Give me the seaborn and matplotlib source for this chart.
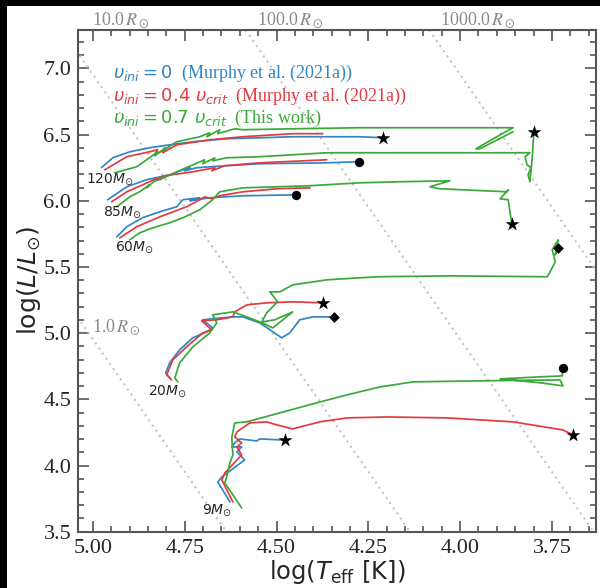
import numpy as np
import pandas as pd
import matplotlib
matplotlib.use("Agg")
import matplotlib.pyplot as plt
from matplotlib.font_manager import FontProperties
from matplotlib.lines import Line2D
from matplotlib.patches import Rectangle
from matplotlib.ticker import MultipleLocator, FormatStrFormatter
import seaborn as sns

# evolutionary tracks: log Teff and log L for each mass / rotation
t120_v0 = [4.977, 4.946, 4.900, 4.846, 4.791, 4.728, 4.635, 4.546, 4.456, 4.273, 4.210]
l120_v0 = [6.250, 6.325, 6.370, 6.401, 6.423, 6.446, 6.469, 6.476, 6.484, 6.484, 6.476]
t120_v4 = [4.968, 4.908, 4.846, 4.824, 4.832, 4.805, 4.810, 4.772, 4.682, 4.592, 4.456, 4.374]
l120_v4 = [6.234, 6.333, 6.370, 6.386, 6.348, 6.386, 6.363, 6.423, 6.461, 6.484, 6.507, 6.507]
t120_v7 = [4.941, 4.881, 4.854, 4.824, 4.832, 4.802, 4.810, 4.772, 4.709, 4.682, 4.690, 4.655,
           4.660, 4.614, 4.592, 4.456, 4.273, 3.856, 3.905, 3.957, 3.946, 3.856]
l120_v7 = [6.212, 6.257, 6.310, 6.370, 6.340, 6.401, 6.378, 6.446, 6.484, 6.514, 6.484, 6.537,
           6.507, 6.544, 6.537, 6.544, 6.552, 6.552, 6.476, 6.393, 6.393, 6.522]

t85_v0 = [4.960, 4.908, 4.854, 4.791, 4.755, 4.736, 4.750, 4.717, 4.682, 4.546, 4.363, 4.276]
l85_v0 = [6.008, 6.106, 6.159, 6.197, 6.234, 6.250, 6.227, 6.250, 6.257, 6.280, 6.287, 6.295]
t85_v4 = [4.949, 4.908, 4.846, 4.824, 4.832, 4.805, 4.728, 4.668, 4.676, 4.641, 4.546, 4.363]
l85_v4 = [5.993, 6.068, 6.144, 6.174, 6.151, 6.189, 6.219, 6.250, 6.227, 6.265, 6.287, 6.310]
t85_v7 = [4.935, 4.900, 4.873, 4.846, 4.854, 4.832, 4.818, 4.772, 4.728, 4.696, 4.701, 4.668,
          4.674, 4.636, 4.546, 4.363, 3.810, 3.823, 3.818, 3.807, 3.815, 3.810, 3.804, 3.799]
l85_v7 = [5.955, 6.030, 6.068, 6.121, 6.098, 6.151, 6.159, 6.219, 6.272, 6.310, 6.280, 6.325,
          6.302, 6.325, 6.333, 6.363, 6.363, 6.333, 6.272, 6.250, 6.197, 6.144, 6.310, 6.522]

t60_v0 = [4.935, 4.908, 4.865, 4.818, 4.772, 4.755, 4.709, 4.736, 4.682, 4.592, 4.447]
l60_v0 = [5.728, 5.804, 5.872, 5.917, 5.955, 6.008, 6.023, 6.000, 6.023, 6.038, 6.045]
t60_v4 = [4.927, 4.881, 4.818, 4.745, 4.709, 4.696, 4.676, 4.655, 4.592, 4.499, 4.409]
l60_v4 = [5.720, 5.804, 5.879, 5.955, 6.008, 6.030, 6.015, 6.038, 6.068, 6.091, 6.098]
t60_v7 = [4.900, 4.873, 4.837, 4.791, 4.755, 4.709, 4.674, 4.655, 4.592, 4.499, 4.409, 4.273,
          4.164, 4.028, 4.082, 4.055, 3.872, 3.869, 3.891, 3.869, 3.864, 3.859]
l60_v7 = [5.705, 5.758, 5.796, 5.834, 5.872, 5.932, 6.008, 6.068, 6.098, 6.106, 6.114, 6.136,
          6.144, 6.151, 6.106, 6.091, 6.068, 6.083, 6.015, 6.008, 5.909, 5.826]

t20_v0 = [4.791, 4.802, 4.791, 4.764, 4.728, 4.690, 4.674, 4.701, 4.649, 4.619, 4.592, 4.546,
          4.486, 4.464, 4.437, 4.401, 4.344]
l20_v0 = [4.662, 4.700, 4.776, 4.874, 4.965, 5.010, 5.040, 5.101, 5.116, 5.123, 5.123, 5.078,
          4.965, 5.002, 5.101, 5.123, 5.123]
t20_v4 = [4.786, 4.799, 4.783, 4.745, 4.701, 4.676, 4.704, 4.663, 4.619, 4.614, 4.581, 4.527,
          4.456, 4.374]
l20_v4 = [4.647, 4.685, 4.798, 4.897, 5.002, 5.025, 5.093, 5.101, 5.123, 5.161, 5.214, 5.229,
          5.237, 5.229]
t20_v7 = [4.769, 4.777, 4.764, 4.728, 4.682, 4.663, 4.674, 4.636, 4.619, 4.581, 4.546, 4.510,
          4.456, 4.505, 4.540, 4.527, 4.497, 4.518, 4.491, 4.456, 4.363, 4.227, 4.028, 3.763,
          3.755, 3.741, 3.749, 3.733, 3.741, 3.733]
l20_v7 = [4.632, 4.662, 4.776, 4.897, 5.002, 5.078, 5.138, 5.154, 5.161, 5.123, 5.085, 5.040,
          5.161, 5.101, 5.085, 5.154, 5.237, 5.312, 5.312, 5.365, 5.403, 5.426, 5.433, 5.426,
          5.463, 5.539, 5.630, 5.705, 5.592, 5.645]

t9_v0 = [4.627, 4.660, 4.649, 4.587, 4.608, 4.595, 4.622, 4.614, 4.600, 4.554, 4.546, 4.491, 4.477]
l9_v0 = [3.725, 3.876, 3.914, 4.042, 4.103, 4.141, 4.141, 4.171, 4.201, 4.186, 4.201, 4.194, 4.194]
t9_v4 = [4.619, 4.649, 4.641, 4.595, 4.608, 4.595, 4.614, 4.608, 4.573, 4.527, 4.499, 4.456,
         4.382, 4.308, 4.199, 4.036, 3.856, 3.720, 3.692]
l9_v4 = [3.725, 3.891, 3.944, 4.080, 4.141, 4.171, 4.216, 4.254, 4.322, 4.330, 4.307, 4.277,
         4.330, 4.360, 4.367, 4.360, 4.330, 4.269, 4.231]
t9_v7 = [4.595, 4.641, 4.636, 4.627, 4.619, 4.622, 4.614, 4.581, 4.491, 4.401, 4.308, 4.218,
         4.128, 3.946, 3.728, 3.720, 3.782, 3.891, 3.782, 3.722, 3.720]
l9_v7 = [3.680, 3.869, 3.914, 4.020, 4.080, 4.209, 4.322, 4.330, 4.398, 4.466, 4.534, 4.594,
         4.632, 4.640, 4.647, 4.602, 4.625, 4.655, 4.670, 4.677, 4.737]

rot_labels = [r"$\upsilon_{ini} = 0$  (Murphy et al. (2021a))",
              r"$\upsilon_{ini} = 0.4\ \upsilon_{crit}$  (Murphy et al. (2021a))",
              r"$\upsilon_{ini} = 0.7\ \upsilon_{crit}$  (This work)"]
palette = ["#2f86c8", "#e33a3f", "#3aa93a"]

# (mass, rotation index, T, L, end marker)
tracks = [
    (120, 0, t120_v0, l120_v0, "*"), (120, 1, t120_v4, l120_v4, None), (120, 2, t120_v7, l120_v7, None),
    (85, 0, t85_v0, l85_v0, "o"), (85, 1, t85_v4, l85_v4, None), (85, 2, t85_v7, l85_v7, "*"),
    (60, 0, t60_v0, l60_v0, "o"), (60, 1, t60_v4, l60_v4, None), (60, 2, t60_v7, l60_v7, "*"),
    (20, 0, t20_v0, l20_v0, "D"), (20, 1, t20_v4, l20_v4, "*"), (20, 2, t20_v7, l20_v7, "D"),
    (9, 0, t9_v0, l9_v0, "*"), (9, 1, t9_v4, l9_v4, "*"), (9, 2, t9_v7, l9_v7, "o"),
]

mass_labels = ["120", "85", "60", "20", "9"]
radii = [1, 10, 100, 1000]
logT_sun = 3.7617

rows = []
for mass, r, tt, ll, _ in tracks:
    for i, (a, b) in enumerate(zip(tt, ll)):
        rows.append({"logT": a, "logL": b, "rot": rot_labels[r], "track": f"{mass}_{r}", "i": i})
df = pd.DataFrame(rows)

sns.set_style("ticks")
plt.rcParams["font.family"] = ["Liberation Serif", "DejaVu Serif"]
plt.rcParams["mathtext.fontset"] = "dejavusans"

fig = plt.figure(figsize=(6, 5.88), dpi=100, facecolor="black")
fig.add_artist(Rectangle((0.012, 0), 0.988, 0.99, transform=fig.transFigure,
                         facecolor="white", edgecolor="none", zorder=-5))
ax = fig.add_axes([0.1305, 0.0957, 0.8628, 0.8532])

# lines of constant radius
for rad in radii:
    tt = np.array([5.3, 3.4])
    ax.plot(tt, 2 * np.log10(rad) + 4 * (tt - logT_sun), ls=(0, (1, 2)), color="#c4c4c4",
            lw=1.5, zorder=1)

sns.lineplot(data=df, x="logT", y="logL", hue="rot", hue_order=rot_labels, palette=palette,
             units="track", estimator=None, sort=False, lw=1.25, legend=False, ax=ax)

end_size = {"*": 110, "o": 45, "D": 30}
for mass, r, tt, ll, mk in tracks:
    if mk:
        ax.scatter(tt[-1], ll[-1], marker=mk, s=end_size[mk], color="black", zorder=6, lw=0)

ax.set_xlim(5.04, 3.63)
ax.set_ylim(3.5, 7.29)

# mass labels
mass_pos = [(4.954, 6.166), (4.919, 5.917), (4.886, 5.652), (4.796, 4.564), (4.663, 3.664)]
for m, (x, y) in zip(mass_labels, mass_pos):
    ax.text(x, y, m + r"$M_{\odot}$", fontsize=10, family="DejaVu Sans", ha="center", va="center")

# radius labels
rprop = dict(fontsize=13, color="#8a8a8a", family="Liberation Serif", math_fontfamily="stix",
             ha="left", va="center", clip_on=False)
ax.text(5.004, 7.368, r"10.0$\,R_\odot$", **rprop)
ax.text(4.554, 7.368, r"100.0$\,R_\odot$", **rprop)
ax.text(4.055, 7.368, r"1000.0$\,R_\odot$", **rprop)
ax.text(5.004, 5.048, r"1.0$\,R_\odot$", **rprop)

handles = [Line2D([], [], color=c) for c in palette]
leg = ax.legend(handles, rot_labels, loc="upper left", bbox_to_anchor=(0.035, 0.967),
                frameon=False, handlelength=0, handletextpad=0, labelspacing=0.08,
                labelcolor="linecolor",
                prop=FontProperties(family="Liberation Serif", size=13, math_fontfamily="dejavusans"))
for h in leg.legend_handles:
    h.set_visible(False)

ax.xaxis.set_major_locator(MultipleLocator(0.25))
ax.xaxis.set_minor_locator(MultipleLocator(0.05))
ax.yaxis.set_major_locator(MultipleLocator(0.5))
ax.yaxis.set_minor_locator(MultipleLocator(0.1))
ax.xaxis.set_major_formatter(FormatStrFormatter("%.2f"))
ax.yaxis.set_major_formatter(FormatStrFormatter("%.1f"))
ax.tick_params(which="both", direction="in", top=True, right=True, color="#555555", width=1.2,
               labelsize=16, pad=5)
ax.tick_params(which="major", length=8)
ax.tick_params(which="minor", length=4)
for sp in ax.spines.values():
    sp.set_color("#555555")
    sp.set_linewidth(1.5)

ax.set_xlabel(r"$\log(T_{\mathrm{eff}}\ [\mathrm{K}])$", fontsize=17.5, family="DejaVu Sans", labelpad=0)
ax.set_ylabel(r"$\log(L/L_{\odot})$", fontsize=18, family="DejaVu Sans", labelpad=0)

fig.savefig("out.png", dpi=100, facecolor=fig.get_facecolor())
